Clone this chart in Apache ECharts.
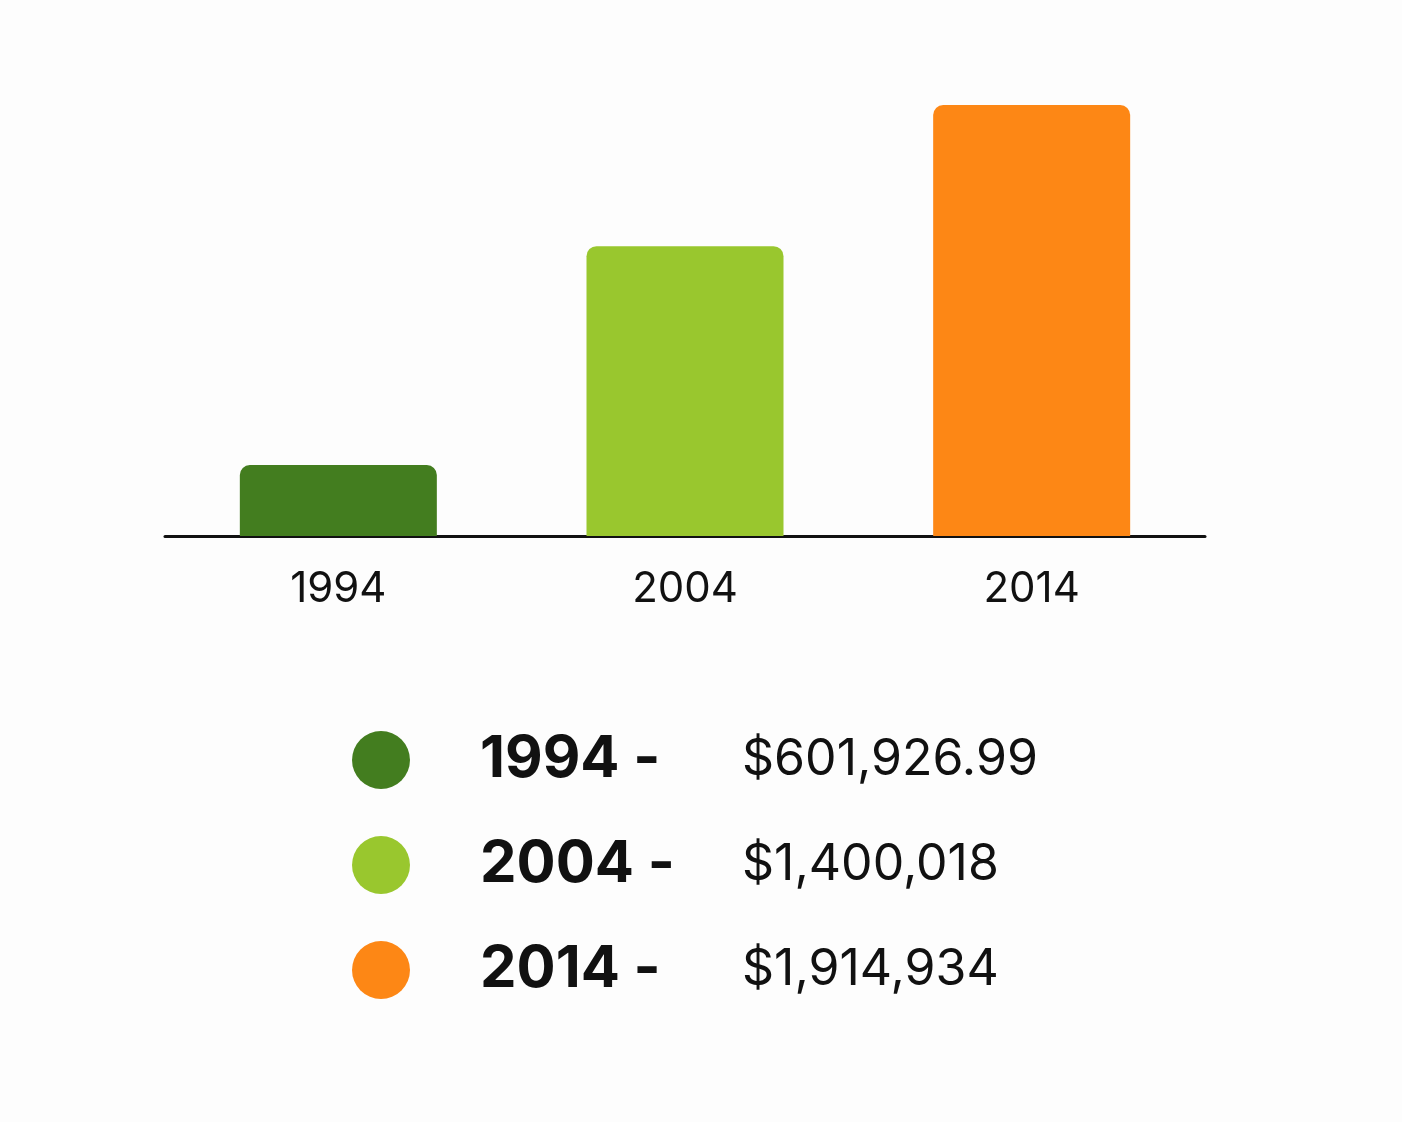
<!DOCTYPE html>
<html><head><meta charset="utf-8">
<script src="https://cdn.jsdelivr.net/npm/echarts@6/dist/echarts.min.js"></script>
<style>html,body{margin:0;background:#fdfdfd}#c{width:1402px;height:1122px}</style>
</head><body><div id="c"></div>
<script>
const categories = ['1994', '2004', '2014'];
const values = [601926.99, 1400018, 1914934];
const valueLabels = ['$601,926.99', '$1,400,018', '$1,914,934'];
const colors = ['#437d1f', '#99c72e', '#fd8715'];

const chart = echarts.init(document.getElementById('c'));
const series = categories.map((c, i) => ({
  name: c, type: 'bar', barWidth: 197, barGap: '-100%',
  itemStyle: { color: colors[i], borderRadius: [10, 10, 0, 0] },
  data: categories.map((_, j) => j === i ? values[i] : null)
}));
chart.setOption({
  backgroundColor: '#fdfdfd',
  animation: false,
  grid: { left: 165, right: 197, top: 105, bottom: 586 },
  xAxis: { type: 'category', data: categories,
    axisLine: { lineStyle: { color: '#111', width: 3 } }, axisTick: { show: false },
    axisLabel: { fontSize: 42, color: '#111', margin: 32, fontFamily: 'Inter' } },
  yAxis: { type: 'value', min: 343000, max: 1914934, show: false, splitLine: { show: false } },
  legend: {
    orient: 'vertical', left: 347, top: 726, icon: 'circle', itemWidth: 58, itemHeight: 58, itemGap: 47,
    data: categories,
    formatter: n => { const i = categories.indexOf(n); return `{a|${n} -}{b|${valueLabels[i]}}`; },
    textStyle: { rich: {
      a: { fontSize: 58, fontWeight: 'bold', color: '#111', width: 262, padding: [0, 0, 0, 65], fontFamily: 'Inter', lineHeight: 60 },
      b: { fontSize: 50, color: '#111', fontFamily: 'Inter', lineHeight: 60 } } }
  },
  series
});
</script></body></html>
